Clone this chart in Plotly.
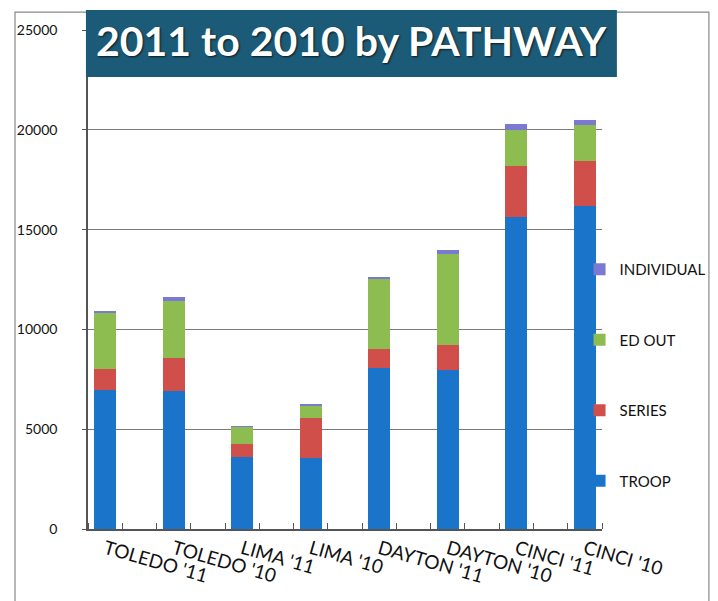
import plotly.graph_objects as go

categories = ["TOLEDO '11", "TOLEDO '10", "LIMA '11", "LIMA '10",
              "DAYTON '11", "DAYTON '10", "CINCI '11", "CINCI '10"]
troop = [6950, 6900, 3600, 3550, 8080, 7950, 15650, 16200]
series = [1080, 1650, 680, 2000, 920, 1280, 2550, 2250]
ed_out = [2830, 2850, 830, 650, 3570, 4550, 1800, 1800]
individual = [70, 200, 50, 70, 80, 220, 300, 250]

series_names = ["TROOP", "SERIES", "ED OUT", "INDIVIDUAL"]
colors = ["#1a74c9", "#d14f4a", "#8dbd50", "#7b79d2"]
values = [troop, series, ed_out, individual]

# bars sit in every other slot of the category axis (empty slots between)
xpos = [i * 2 for i in range(len(categories))]

fig = go.Figure()
for k, (name, col, vals) in enumerate(zip(series_names, colors, values)):
    fig.add_trace(go.Bar(x=xpos, y=vals, name=name, marker_color=col,
                         marker_line_width=0, width=0.64, legendgroup=name,
                         legendrank=10 - k))

font_main = "Lato, 'Open Sans', sans-serif"
fig.update_layout(
    width=710, height=593,
    barmode="stack",
    plot_bgcolor="white", paper_bgcolor="white",
    margin=dict(l=80, r=116, t=22, b=72, autoexpand=False),
    font=dict(family=font_main, color="#111111"),
    showlegend=True,
    legend=dict(xref="container", yref="container", x=0.805, xanchor="left",
                y=0.587, yanchor="top",
                traceorder="grouped", tracegroupgap=48,
                font=dict(size=15, color="#111111"), bgcolor="rgba(0,0,0,0)",
                itemwidth=30),
    xaxis=dict(range=[-0.5, 14.5], tickmode="array", tickvals=xpos,
               ticktext=categories, tickangle=16, ticks="",
               tickfont=dict(size=19), showgrid=False, zeroline=False,
               showline=True, linecolor="#555555", linewidth=1.5,
               automargin=False,
               minor=dict(tickmode="array",
                          tickvals=[i + 0.5 for i in range(-1, 15)],
                          ticks="inside", ticklen=6, tickcolor="#555555",
                          tickwidth=1.2, showgrid=False)),
    yaxis=dict(range=[0, 25000], dtick=5000, tickformat="d",
               showgrid=True, gridcolor="#7a7a7a", gridwidth=1.2,
               zeroline=False, showline=True, linecolor="#555555",
               linewidth=1.5, ticks="outside", ticklen=4,
               tickcolor="#555555", ticklabelstandoff=22,
               tickfont=dict(size=14), automargin=False),
)

# outer frame
fig.add_shape(type="rect", xref="paper", yref="paper",
              x0=-0.142, x1=1.208, y0=-0.2, y1=1.036,
              line=dict(color="#8a8a8a", width=1.2), fillcolor="rgba(0,0,0,0)",
              layer="below")
# title box
fig.add_shape(type="rect", xref="paper", yref="paper",
              x0=-0.004, x1=1.029, y0=0.906, y1=1.040,
              line=dict(width=0), fillcolor="#1c5b78", layer="above")
fig.add_annotation(text="<b>2011 to 2010 by PATHWAY</b>", xref="paper",
                   yref="paper", x=0.512, y=0.979, showarrow=False,
                   xanchor="center", yanchor="middle",
                   font=dict(size=41, color="white", family=font_main,
                             shadow="1px 1px 2px #0a1a22"))

fig.write_html("out.html")
